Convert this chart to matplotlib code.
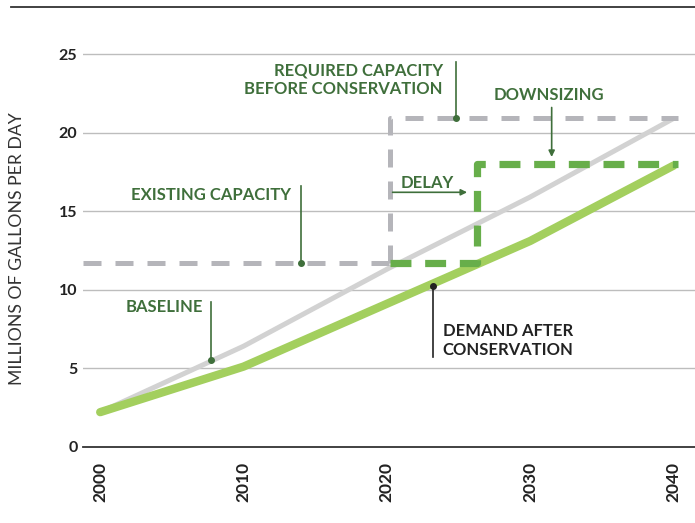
import matplotlib
matplotlib.use("Agg")
import matplotlib.pyplot as plt
from matplotlib.lines import Line2D

years = [2000, 2010, 2020, 2030, 2040]
baseline = [2.2, 6.4, 11.3, 15.9, 20.9]
demand = [2.2, 5.1, 9.1, 13.1, 17.9]

existing_x = [1998.8, 2020.2]
existing_y = [11.7, 11.7]
required_x = [2020.2, 2020.2, 2040.3]
required_y = [11.7, 20.9, 20.9]
delayed_x = [2020.2, 2026.3, 2026.3, 2040.3]
delayed_y = [11.7, 11.7, 18.0, 18.0]

yticks = [0, 5, 10, 15, 20, 25]
xticks = [2000, 2010, 2020, 2030, 2040]

GREEN_TXT = "#3f6f3b"
FONT = "Lato"

fig = plt.figure(figsize=(6.95, 5.23), dpi=100)
ax = fig.add_axes([83/695, 1-446.7/523, 1-83/695, 439.7/523])
ax.set_xlim(1998.8, 2041.5)
ax.set_ylim(0, 28)

for s in ["top", "right", "left"]:
    ax.spines[s].set_visible(False)
ax.spines["bottom"].set_color("#333333")
ax.spines["bottom"].set_linewidth(1.3)

for t in yticks[1:]:
    ax.axhline(t, color="#bdbdbd", lw=1.0, zorder=0)

ax.set_yticks(yticks)
ax.set_yticklabels([str(t) for t in yticks], fontfamily=FONT, fontweight="bold",
                   fontsize=11.5, color="#222222")
ax.set_xticks(xticks)
ax.set_xticklabels([str(t) for t in xticks], fontfamily=FONT, fontweight="bold",
                   fontsize=12.5, color="#222222", rotation=90)
ax.tick_params(axis="both", length=0)
ax.tick_params(axis="y", pad=4)
ax.tick_params(axis="x", pad=11)

# lines
ax.plot(years, baseline, color="#d2d2d2", lw=3.6, solid_capstyle="round", zorder=2, clip_on=False)
ax.plot(years, demand, color="#a3cf5e", lw=6, solid_capstyle="round", zorder=3, clip_on=False)
ax.plot(existing_x, existing_y, color="#b5b5ba", lw=3.6, dashes=(3.6, 2.8), zorder=4, clip_on=False)
ax.plot(required_x, required_y, color="#b5b5ba", lw=3.6, dashes=(3.6, 2.8), zorder=4, clip_on=False)
ax.plot(delayed_x, delayed_y, color="#67ae4a", lw=5.2, dashes=(2.9, 1.9), dash_capstyle="butt",
        zorder=5, clip_on=False)

tk = dict(fontfamily=FONT, fontweight="bold", fontsize=12)

# Required capacity
ax.text(2023.9, 23.35, "REQUIRED CAPACITY\nBEFORE CONSERVATION", ha="right", va="center",
        color=GREEN_TXT, linespacing=1.2, **tk)
ax.plot([2024.8, 2024.8], [20.9, 24.5], color=GREEN_TXT, lw=1.2, zorder=6)
ax.plot([2024.8], [20.9], "o", color=GREEN_TXT, ms=4, zorder=6)

# Downsizing
ax.text(2031.3, 22.4, "DOWNSIZING", ha="center", va="center", color=GREEN_TXT, **tk)
ax.annotate("", xy=(2031.5, 18.45), xytext=(2031.5, 21.6),
            arrowprops=dict(arrowstyle="-|>", color=GREEN_TXT, lw=1.2, mutation_scale=9,
                            shrinkA=0, shrinkB=0), zorder=6)

# Delay
ax.text(2022.8, 16.8, "DELAY", ha="center", va="center", color=GREEN_TXT, **tk)
ax.annotate("", xy=(2025.6, 16.2), xytext=(2020.4, 16.2),
            arrowprops=dict(arrowstyle="-|>", color=GREEN_TXT, lw=1.2, mutation_scale=9,
                            shrinkA=0, shrinkB=0), zorder=6)

# Existing capacity
ax.text(2013.3, 16.0, "EXISTING CAPACITY", ha="right", va="center", color=GREEN_TXT, **tk)
ax.plot([2014.0, 2014.0], [11.7, 16.6], color=GREEN_TXT, lw=1.2, zorder=6)
ax.plot([2014.0], [11.7], "o", color=GREEN_TXT, ms=4, zorder=6)

# Baseline
ax.text(2007.2, 8.9, "BASELINE", ha="right", va="center", color=GREEN_TXT, **tk)
ax.plot([2007.7, 2007.7], [5.52, 9.2], color=GREEN_TXT, lw=1.2, zorder=6)
ax.plot([2007.7], [5.52], "o", color=GREEN_TXT, ms=4, zorder=6)

# Demand after conservation
ax.text(2023.9, 6.75, "DEMAND AFTER\nCONSERVATION", ha="left", va="center", color="#222222",
        linespacing=1.25, **tk)
ax.plot([2023.2, 2023.2], [5.7, 10.23], color="#222222", lw=1.2, zorder=6)
ax.plot([2023.2], [10.23], "o", color="#222222", ms=4, zorder=6)

# y label
fig.text(17/695, 1-249/523, "MILLIONS OF GALLONS PER DAY", rotation=90, ha="center", va="center",
         fontfamily=FONT, fontweight="normal", fontsize=12.7, color="#333333")

# top rule
fig.add_artist(Line2D([11/695, 1], [1-7/523, 1-7/523], color="#333333", lw=1.3,
                      transform=fig.transFigure))

fig.savefig("out.png", dpi=100)
